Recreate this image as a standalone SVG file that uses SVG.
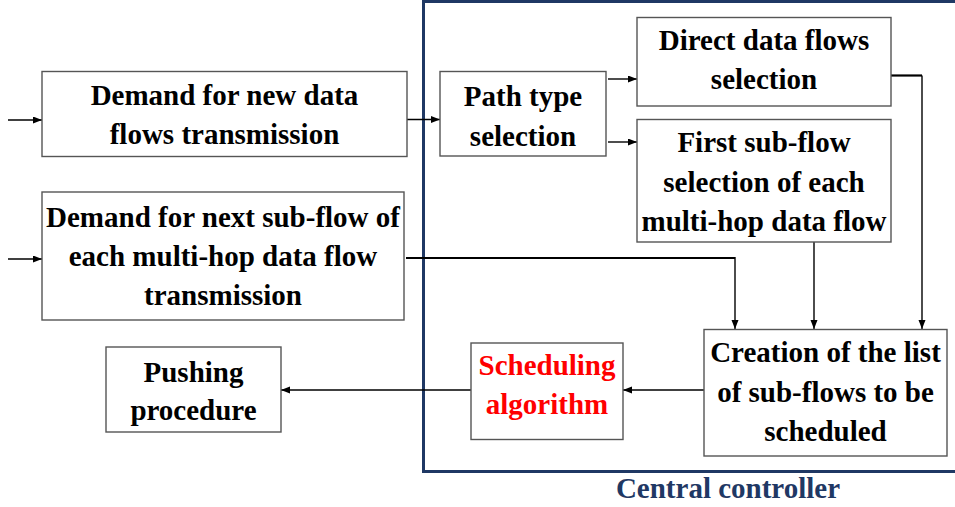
<svg xmlns="http://www.w3.org/2000/svg" width="955" height="507" viewBox="0 0 955 507">
<defs>
<marker id="ah" markerUnits="userSpaceOnUse" markerWidth="10" markerHeight="8" refX="9" refY="3.5" orient="auto">
<path d="M0,0 L9,3.5 L0,7 z" fill="#000"/>
</marker>
<style>
.box{fill:#fff;stroke:#555;stroke-width:1.4}
.t{font-family:"Liberation Serif","Times New Roman",serif;font-weight:bold;font-size:29px;fill:#000;text-anchor:middle}
.red{fill:#ff0000}
.cc{fill:#1F3864}
.c{fill:none;stroke:#000;stroke-width:1.4}
.ck{fill:none;stroke:#000;stroke-width:2.2}
</style>
</defs>
<rect width="955" height="507" fill="#fff"/>
<g id="central-controller">
<path d="M960 1.5 H423.5 V471.5 H960" fill="none" stroke="#1F3864" stroke-width="3"/>
<text class="t cc" x="728" y="498">Central controller</text>
</g>
<g id="connectors">
<path class="c" d="M8 120 H42" marker-end="url(#ah)"/>
<path class="c" d="M8 259 H42" marker-end="url(#ah)"/>
<path class="c" d="M407 119.5 H440" marker-end="url(#ah)"/>
<path class="c" d="M608 79 H637" marker-end="url(#ah)"/>
<path class="c" d="M608 142 H637" marker-end="url(#ah)"/>
<path class="ck" d="M891 75.5 H922"/>
<path class="c" d="M922 75.5 V329" marker-end="url(#ah)"/>
<path class="c" d="M814 242 V329" marker-end="url(#ah)"/>
<path class="ck" d="M406 258 H735"/>
<path class="c" d="M735 257 V329" marker-end="url(#ah)"/>
<path class="c" d="M704 390 H623" marker-end="url(#ah)"/>
<path class="c" d="M471 390 H281" marker-end="url(#ah)"/>
</g>
<g id="demand-new">
<rect class="box" x="42" y="71.5" width="365" height="85"/>
<text class="t" x="224.5" y="105">Demand for new data</text>
<text class="t" x="224.5" y="144">flows transmission</text>
</g>
<g id="demand-next">
<rect class="box" x="42" y="192" width="362" height="128"/>
<text class="t" x="223" y="226.5">Demand for next sub-flow of</text>
<text class="t" x="223" y="266">each multi-hop data flow</text>
<text class="t" x="223" y="305">transmission</text>
</g>
<g id="pushing">
<rect class="box" x="106" y="347" width="175" height="85"/>
<text class="t" x="193.5" y="381.5">Pushing</text>
<text class="t" x="193.5" y="420">procedure</text>
</g>
<g id="path-type">
<rect class="box" x="440" y="71.5" width="166" height="84.5"/>
<text class="t" x="523" y="106">Path type</text>
<text class="t" x="523" y="146">selection</text>
</g>
<g id="direct">
<rect class="box" x="637" y="17.5" width="254" height="88.5"/>
<text class="t" x="764" y="50">Direct data flows</text>
<text class="t" x="764" y="89">selection</text>
</g>
<g id="first-subflow">
<rect class="box" x="637" y="119.5" width="254" height="122.5"/>
<text class="t" x="764" y="152">First sub-flow</text>
<text class="t" x="764" y="192">selection of each</text>
<text class="t" x="764" y="231">multi-hop data flow</text>
</g>
<g id="creation">
<rect class="box" x="704" y="329.5" width="243" height="126.5"/>
<text class="t" x="825.5" y="362">Creation of the list</text>
<text class="t" x="825.5" y="401.5">of sub-flows to be</text>
<text class="t" x="825.5" y="441">scheduled</text>
</g>
<g id="scheduling">
<rect class="box" x="471" y="343" width="152" height="96.5"/>
<text class="t red" x="547" y="375">Scheduling</text>
<text class="t red" x="547" y="414">algorithm</text>
</g>
</svg>
